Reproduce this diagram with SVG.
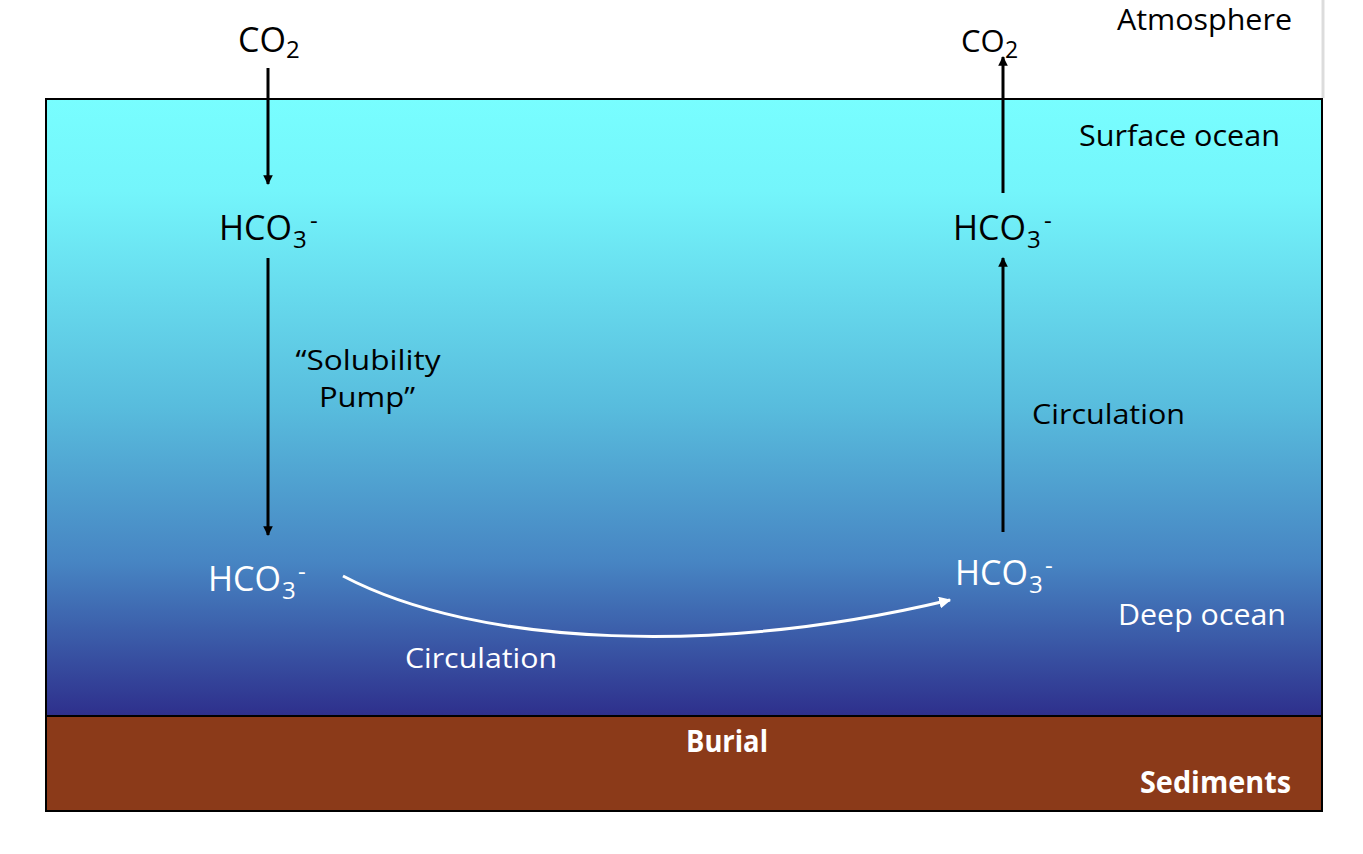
<svg xmlns="http://www.w3.org/2000/svg" width="1363" height="854" viewBox="0 0 1363 854">
<defs>
<linearGradient id="ocean" x1="0" y1="0" x2="0" y2="1">
<stop offset="0" stop-color="#78FEFF"/>
<stop offset="0.15" stop-color="#74F5FB"/>
<stop offset="0.5" stop-color="#58BCDD"/>
<stop offset="0.75" stop-color="#4785C3"/>
<stop offset="1" stop-color="#2E2F8C"/>
</linearGradient>
<marker id="ah" viewBox="0 0 10 10" refX="9" refY="5" markerWidth="3.2" markerHeight="3.2" orient="auto" markerUnits="strokeWidth">
<path d="M0,0 L10,5 L0,10 z" fill="#000"/>
</marker>
<marker id="ahw" viewBox="0 0 10 10" refX="9" refY="5" markerWidth="4" markerHeight="4" orient="auto" markerUnits="strokeWidth">
<path d="M0,0 L10,5 L0,10 z" fill="#fff"/>
</marker>
</defs>
<style>
text{font-family:"Open Sans","Noto Sans","Liberation Sans",sans-serif;}
.k{fill:#000;font-size:34px;}
.w{fill:#fff;font-size:34px;}
.b{fill:#fff;font-size:30px;font-weight:bold;}
.sub{font-size:24px;}
.c{stroke:#000;stroke-width:3;fill:none;marker-end:url(#ah);}
.cw{stroke:#fff;stroke-width:3;fill:none;marker-end:url(#ahw);}
</style>
<rect width="1363" height="854" fill="#fff"/>
<line x1="1323" y1="0" x2="1323" y2="98" stroke="#dcdcdc" stroke-width="3"/>
<g id="ocean-layer">
<rect x="46" y="99" width="1276" height="617" fill="url(#ocean)" stroke="#000" stroke-width="2"/>
</g>
<g id="sediments-layer">
<rect x="46" y="716" width="1276" height="95" fill="#8B3A19" stroke="#000" stroke-width="2"/>
</g>
<g id="labels">
<text class="k" x="1117" y="30" textLength="175" lengthAdjust="spacingAndGlyphs" style="font-size:30px">Atmosphere</text>
<text class="k" x="1079" y="146" textLength="201" lengthAdjust="spacingAndGlyphs" style="font-size:30px">Surface ocean</text>
<text class="w" x="1118" y="625" textLength="168" lengthAdjust="spacingAndGlyphs" style="font-size:30px">Deep ocean</text>
<text class="b" x="1140" y="793" textLength="151" lengthAdjust="spacingAndGlyphs">Sediments</text>
<text class="b" x="686" y="752" textLength="82" lengthAdjust="spacingAndGlyphs">Burial</text>
</g>
<g id="co2-left">
<text class="k" x="238" y="52">CO<tspan class="sub" x="286" y="58">2</tspan></text>
</g>
<g id="co2-right">
<text class="k" x="961" y="52" style="font-size:31px">CO<tspan class="sub" x="1005" y="58" style="font-size:23px">2</tspan></text>
</g>
<g id="hco3-left-top">
<text class="k" x="219" y="240">HCO<tspan class="sub" x="293" y="248">3</tspan><tspan class="sub" x="310" y="229">-</tspan></text>
</g>
<g id="hco3-right-top">
<text class="k" x="953" y="240">HCO<tspan class="sub" x="1027" y="248">3</tspan><tspan class="sub" x="1044" y="229">-</tspan></text>
</g>
<g id="hco3-left-deep">
<text class="w" x="208" y="591">HCO<tspan class="sub" x="282" y="599">3</tspan><tspan class="sub" x="298" y="580">-</tspan></text>
</g>
<g id="hco3-right-deep">
<text class="w" x="955" y="585">HCO<tspan class="sub" x="1029" y="593">3</tspan><tspan class="sub" x="1045" y="574">-</tspan></text>
</g>
<g id="connectors">
<line class="c" x1="268" y1="68" x2="268" y2="184"/>
<line class="c" x1="268" y1="258" x2="268" y2="535"/>
<line class="c" x1="1003" y1="193" x2="1003" y2="57"/>
<line class="c" x1="1003" y1="532" x2="1003" y2="258"/>
<path class="cw" d="M343,576 C480,648 720,655 950,600"/>
</g>
<g id="connector-labels">
<text class="k" x="368" y="370" text-anchor="middle" textLength="145" lengthAdjust="spacingAndGlyphs" style="font-size:28px">“Solubility</text>
<text class="k" x="367" y="407" text-anchor="middle" textLength="96" lengthAdjust="spacingAndGlyphs" style="font-size:28px">Pump”</text>
<text class="k" x="1032" y="424" textLength="153" lengthAdjust="spacingAndGlyphs" style="font-size:28px">Circulation</text>
<text class="w" x="405" y="668" textLength="152" lengthAdjust="spacingAndGlyphs" style="font-size:28px">Circulation</text>
</g>
</svg>
